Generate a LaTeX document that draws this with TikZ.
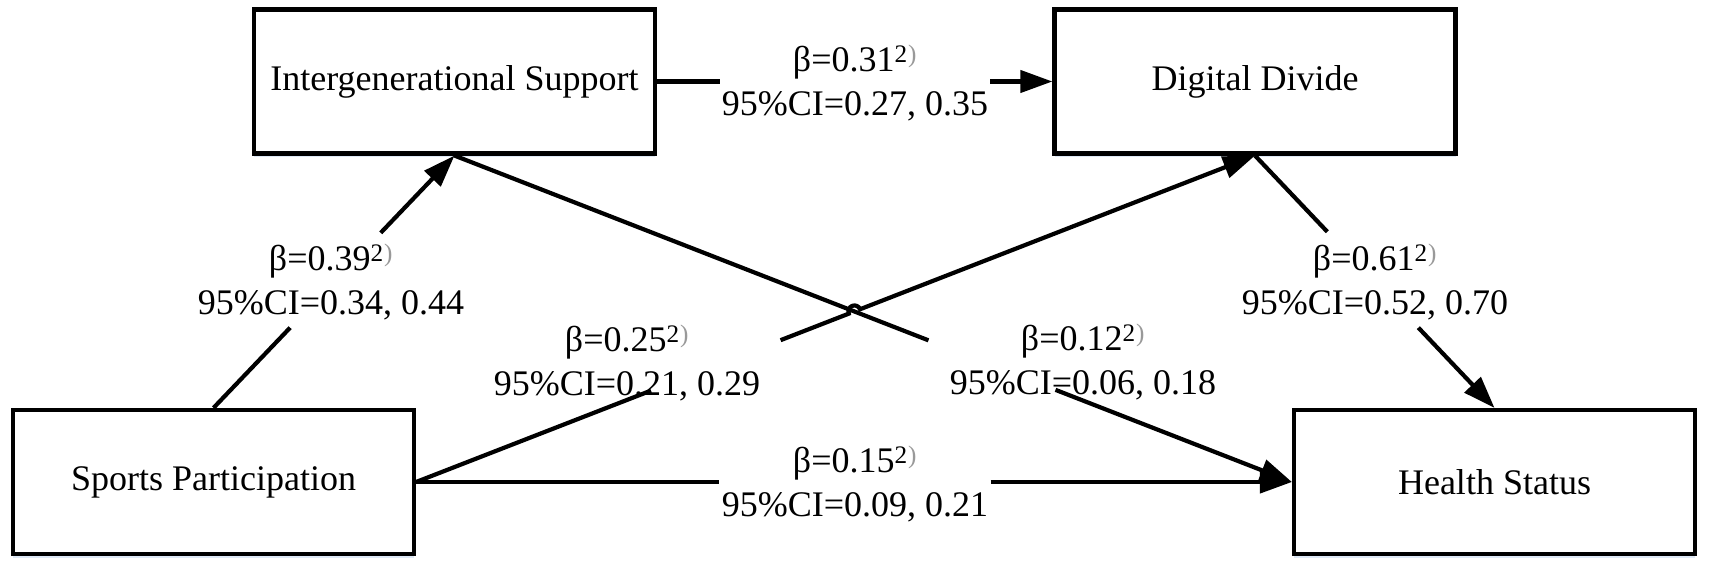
\documentclass[tikz,border=0pt]{standalone}
\usepackage{fontspec}
\setmainfont{Liberation Serif}
\usetikzlibrary{arrows.meta,calc,shadows}
\newcommand\mysig{\textsuperscript{2\kern1pt\textcolor{black!40}{)}}}
\begin{document}
\begin{tikzpicture}[x=1pt,y=1pt,
  varbox/.style={draw=black, line width=4.2pt, fill=white, minimum width=401pt, minimum height=144pt,
     inner sep=0pt, font=\fontsize{36}{44}\selectfont,
     drop shadow={shadow xshift=0pt, shadow yshift=-4pt, fill={rgb,255:red,222;green,233;blue,246}, opacity=1}},
  lab/.style={align=center, inner sep=0pt, font=\fontsize{36}{44}\selectfont},
  conn/.style={line width=4.2pt, line cap=butt},
  arr/.style={conn, -{Triangle[length=32pt,width=22pt]}}]
\useasboundingbox[fill=white] (0,0) rectangle (1713,575);

\node[varbox] (IS) at (454.5,493.5) {Intergenerational Support};
\node[varbox] (DD) at (1255,493.5) {Digital Divide};
\node[varbox] (SP) at (213.5,93) {Sports Participation};
\node[varbox] (HS) at (1494.5,93) {Health Status};

% SP -> IS
\coordinate (a1) at ($(SP.north)!0.318!(IS.south)$);
\coordinate (a2) at ($(SP.north)!0.694!(IS.south)$);
\draw[conn] (SP.north) -- (a1);
\draw[arr] (a2) -- (IS.south);
\node[lab] (L1) at (331,293) {β=0.39\mysig\\95\%CI=0.34, 0.44};

% IS -> DD
\coordinate (b1) at ($(IS.east)!0.16!(DD.west)$);
\coordinate (b2) at ($(IS.east)!0.8425!(DD.west)$);
\draw[conn] (IS.east) -- (b1);
\draw[arr] (b2) -- (DD.west);
\node[lab] (L2) at (855,492) {β=0.31\mysig\\95\%CI=0.27, 0.35};

% DD -> HS
\coordinate (c1) at ($(DD.south)!0.302!(HS.north)$);
\coordinate (c2) at ($(DD.south)!0.682!(HS.north)$);
\draw[conn] (DD.south) -- (c1);
\draw[arr] (c2) -- (HS.north);
\node[lab] (L3) at (1375,293) {β=0.61\mysig\\95\%CI=0.52, 0.70};

% SP -> HS
\coordinate (d1) at ($(SP.east)!0.346!(HS.west)$);
\coordinate (d2) at ($(SP.east)!0.656!(HS.west)$);
\draw[conn] (SP.east) -- (d1);
\draw[arr] (d2) -- (HS.west);
\node[lab] (L4) at (855,90.5) {β=0.15\mysig\\95\%CI=0.09, 0.21};

% IS -> HS
\coordinate (f1) at ($(IS.south)!0.566!(HS.west)$);
\coordinate (f2) at ($(IS.south)!0.7177!(HS.west)$);
\draw[conn] (IS.south) -- (f1);
\draw[arr] (f2) -- (HS.west);
\node[lab] (L6) at (1083,213) {β=0.12\mysig\\95\%CI=0.06, 0.18};

% SP -> DD (with hop over IS -> HS)
\coordinate (X) at (intersection of SP.east--DD.south and IS.south--HS.west);
\coordinate (e1) at ($(SP.east)!0.28!(DD.south)$);
\coordinate (e2) at ($(SP.east)!0.4345!(DD.south)$);
\coordinate (h1) at ($(X)!6pt!(SP.east)$);
\draw[conn] (SP.east) -- (e1);
\draw[arr] (e2) -- (h1) arc[start angle=201.33, end angle=21.33, radius=6pt] -- (DD.south);
\node[lab] (L5) at (627,212) {β=0.25\mysig\\95\%CI=0.21, 0.29};
\end{tikzpicture}
\end{document}
